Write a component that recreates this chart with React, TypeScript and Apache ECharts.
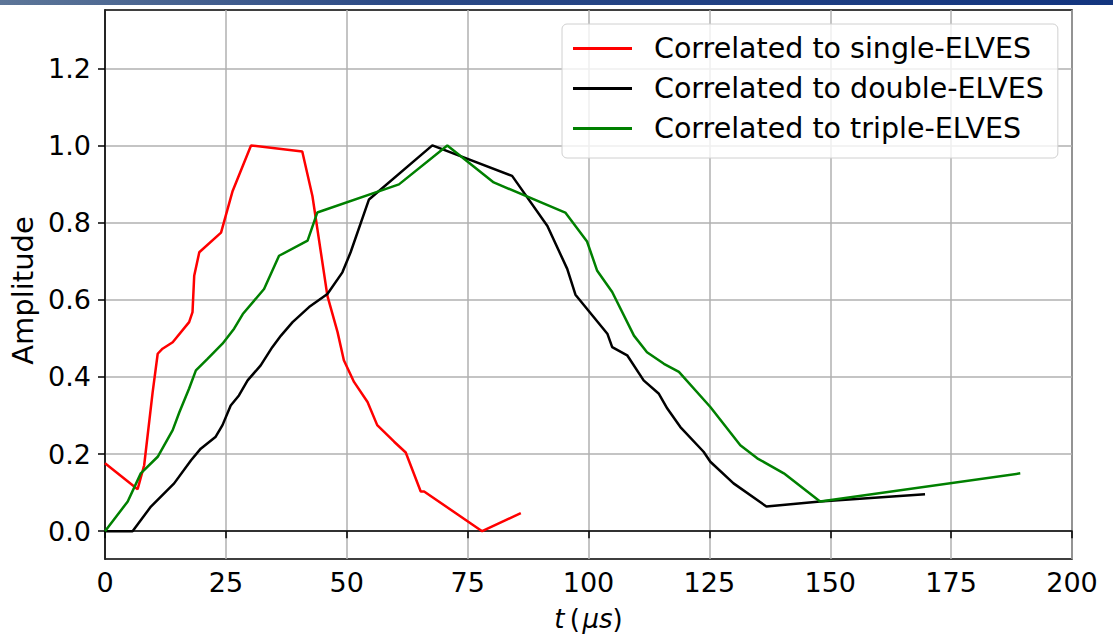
import React, { useEffect, useRef } from "react";
import * as echarts from "echarts";

const singleElves: [number, number][] = [
  [0, 0.176], [6.75, 0.109], [8.1, 0.171], [9.85, 0.36], [10.9, 0.46], [11.9, 0.473],
  [14, 0.49], [17.4, 0.542], [18.1, 0.568], [18.45, 0.662], [19.5, 0.723], [24, 0.774],
  [26.4, 0.882], [30.2, 1.0], [40.8, 0.984], [42.9, 0.869], [46, 0.61], [48.1, 0.516],
  [49.4, 0.443], [51.5, 0.387], [54.3, 0.335], [56.3, 0.275], [59.8, 0.232], [62.2, 0.204],
  [65.3, 0.103], [66, 0.103], [78, 0.0], [86, 0.047],
];

const doubleElves: [number, number][] = [
  [0, 0], [5.7, 0], [9.5, 0.064], [14.3, 0.124], [17.8, 0.184], [19.8, 0.214],
  [22.9, 0.245], [24.3, 0.275], [26, 0.326], [27.7, 0.352], [29.5, 0.391], [32.2, 0.43],
  [34.6, 0.477], [36.4, 0.507], [38.8, 0.542], [42.2, 0.581], [46, 0.615], [49.1, 0.671],
  [50.8, 0.723], [54.6, 0.86], [67.7, 1.0], [84.2, 0.921], [91.5, 0.791], [95.6, 0.68],
  [97.3, 0.613], [103.9, 0.512], [104.9, 0.477], [108, 0.456], [111.4, 0.391], [114.5, 0.357],
  [116.3, 0.318], [119, 0.27], [123.8, 0.206], [125.2, 0.18], [130, 0.124], [136.8, 0.064],
  [147.9, 0.077], [169.6, 0.096],
];

const tripleElves: [number, number][] = [
  [0, 0], [4.7, 0.077], [7.4, 0.15], [10.9, 0.193], [14, 0.262], [15.4, 0.309],
  [17.4, 0.37], [18.8, 0.417], [21.2, 0.447], [24.3, 0.486], [26.7, 0.525], [28.5, 0.563],
  [32.9, 0.628], [36, 0.714], [41.9, 0.753], [43.9, 0.826], [60.8, 0.899], [70.8, 1.0],
  [80.4, 0.904], [95.2, 0.826], [99.7, 0.751], [101.8, 0.675], [104.9, 0.62], [109.4, 0.507],
  [112.1, 0.464], [115.6, 0.434], [118.7, 0.413], [125.2, 0.322], [131.4, 0.223], [134.9, 0.189],
  [140.4, 0.15], [147.9, 0.077], [189.3, 0.15],
];

const seriesNames = [
  "Correlated to single-ELVES",
  "Correlated to double-ELVES",
  "Correlated to triple-ELVES",
];
const seriesColors = ["#ff0000", "#000000", "#008000"];
const yTicks = [0, 0.2, 0.4, 0.6, 0.8, 1.0, 1.2];
const xTicksInterval = 25;

const FONT = "DejaVu Sans";

export default function App() {
  const ref = useRef<HTMLDivElement>(null);
  useEffect(() => {
    if (!ref.current) return;
    const chart = echarts.init(ref.current, undefined, { renderer: "svg" });
    const datasets = [singleElves, doubleElves, tripleElves];
    chart.setOption({
      animation: false,
      backgroundColor: "#ffffff",
      textStyle: { fontFamily: FONT },
      graphic: [
        {
          type: "rect",
          left: 0,
          top: 0,
          shape: { x: 0, y: 0, width: 1113, height: 5 },
          style: {
            fill: new echarts.graphic.LinearGradient(0, 0, 1, 0, [
              { offset: 0, color: "#5d7698" },
              { offset: 0.35, color: "#2c4a86" },
              { offset: 1, color: "#13357f" },
            ]),
          },
          silent: true,
        },
      ],
      grid: {
        left: 104,
        right: 41,
        top: 10,
        bottom: 76,
        show: true,
        borderColor: "#000",
        borderWidth: 1.5,
        backgroundColor: "transparent",
      },
      legend: {
        show: true,
        data: seriesNames,
        orient: "vertical",
        left: 562,
        top: 24,
        icon: "rect",
        itemWidth: 59,
        itemHeight: 3,
        itemGap: 11,
        padding: [10, 14, 15, 11],
        backgroundColor: "rgba(255,255,255,0.8)",
        borderColor: "#d0d0d0",
        borderWidth: 1,
        borderRadius: 5,
        textStyle: {
          fontFamily: FONT,
          fontSize: 28.5,
          lineHeight: 29,
          color: "#000",
          padding: [0, 0, 0, 17],
        },
      },
      xAxis: {
        type: "value",
        min: 0,
        max: 200,
        interval: xTicksInterval,
        name: "{i|t}\u2009(\u200a{i|μs})",
        nameLocation: "middle",
        nameGap: 47,
        nameTextStyle: {
          fontFamily: FONT,
          fontSize: 26,
          color: "#000",
          rich: { i: { fontFamily: FONT, fontSize: 26, fontStyle: "italic", color: "#000" } },
        },
        axisLine: { show: true, lineStyle: { color: "#000", width: 1.5 } },
        axisTick: { show: true, length: 7, lineStyle: { color: "#000", width: 1.5 } },
        axisLabel: { fontFamily: FONT, fontSize: 27, color: "#000", margin: 10 },
        splitLine: { show: true, lineStyle: { color: "#b0b0b0", width: 1.5 } },
      },
      yAxis: {
        type: "value",
        min: -0.072,
        max: 1.351,
        name: "Amplitude",
        nameLocation: "middle",
        nameGap: 68,
        nameTextStyle: {
          fontFamily: FONT,
          fontSize: 29,
          color: "#000",
          padding: [0, 12, 0, 0],
        },
        axisLine: { show: true, lineStyle: { color: "#000", width: 1.5 } },
        axisTick: {
          show: true,
          length: 7,
          customValues: yTicks,
          lineStyle: { color: "#000", width: 1.5 },
        },
        axisLabel: {
          fontFamily: FONT,
          fontSize: 27,
          color: "#000",
          margin: 14,
          customValues: yTicks,
          formatter: (v: number) => v.toFixed(1),
        },
        splitLine: { show: true, lineStyle: { color: "#b0b0b0", width: 1.5 } },
      },
      series: datasets.map((d, i) => ({
        name: seriesNames[i],
        type: "line",
        data: d,
        showSymbol: false,
        symbol: "none",
        color: seriesColors[i],
        lineStyle: { color: seriesColors[i], width: 2.5 },
        z: 3 + i,
      })),
    });
    return () => chart.dispose();
  }, []);
  return (
    <div
      ref={ref}
      style={{ position: "fixed", left: 0, top: 0, width: 1113, height: 637 }}
    />
  );
}
